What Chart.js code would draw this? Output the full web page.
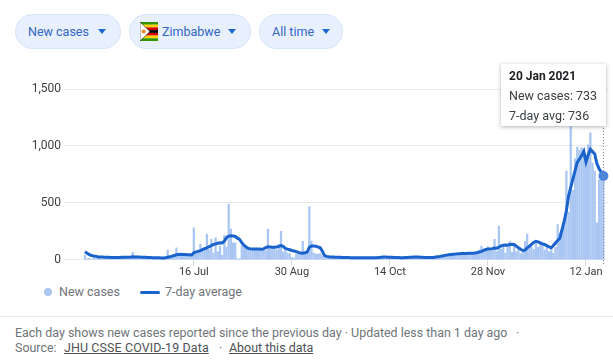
<!DOCTYPE html>
<html>
<head>
<meta charset="utf-8">
<script src="https://cdn.jsdelivr.net/npm/chart.js@4"></script>
<style>
html, body { margin: 0; padding: 0; background: #fff; }
body { width: 613px; height: 361px; position: relative; overflow: hidden; font-family: Roboto, Arial, sans-serif; }
.pill { position: absolute; top: 14px; height: 35px; box-sizing: border-box; border: 1px solid #d6e4fb; border-radius: 18px; background: #e8f0fe; color: #3367c4; font-size: 12.5px; line-height: 33px; white-space: nowrap; }
.pill span { position: absolute; top: 0; }
.pill i { position: absolute; top: 14px; width: 0; height: 0; border-left: 4.5px solid transparent; border-right: 4.5px solid transparent; border-top: 5px solid #1967d2; }
#flag { position: absolute; left: 10px; top: 7px; }
#wrap { position: absolute; left: 0; top: 70px; width: 613px; height: 209px; }
#tip { position: absolute; left: 501px; top: 64px; width: 105px; height: 62px; box-sizing: border-box; padding: 2px 8px; background: #fff; box-shadow: 0 1px 4px rgba(60,64,67,.4); font-size: 12.5px; line-height: 20px; color: #3c4043; white-space: nowrap; }
#tip b { color: #202124; font-weight: 700; display: block; font-size: 12px; }
#legend { position: absolute; left: 0; top: 284px; height: 16px; width: 300px; font-size: 12.5px; line-height: 16px; color: #70757a; }
#legend span { position: absolute; top: 0; white-space: nowrap; }
#legend i { position: absolute; }
#rule { position: absolute; left: 0; top: 316px; width: 613px; height: 1px; background: #e8eaed; }
#foot { position: absolute; left: 0; top: 325px; width: 613px; height: 30px; font-size: 12.45px; line-height: 15px; color: #70757a; }
#foot span { position: absolute; white-space: nowrap; }
#foot u { color: #4d5156; }
</style>
</head>
<body>
<div class="pill" style="left:15px;width:106px"><span style="left:12px">New cases</span><i style="left:82px"></i></div>
<div class="pill" style="left:129px;width:122px">
  <svg id="flag" width="18" height="19" viewBox="0 0 18 19">
    <rect width="18" height="19" fill="#f4f4f4"/>
    <rect width="18" height="2.7" fill="#319400"/>
    <rect y="2.7" width="18" height="2.7" fill="#ffd200"/>
    <rect y="5.4" width="18" height="2.7" fill="#d40000"/>
    <rect y="8.1" width="18" height="2.8" fill="#000"/>
    <rect y="10.9" width="18" height="2.7" fill="#d40000"/>
    <rect y="13.6" width="18" height="2.7" fill="#ffd200"/>
    <rect y="16.3" width="18" height="2.7" fill="#319400"/>
    <path d="M0 0 L10 9.5 L0 19 Z" fill="#fff" stroke="#000" stroke-width=".5"/>
    <circle cx="3.6" cy="9.5" r="2" fill="#e8892a"/>
  </svg>
  <span style="left:32px">Zimbabwe</span><i style="left:98px"></i></div>
<div class="pill" style="left:259px;width:84px"><span style="left:12px">All time</span><i style="left:62px"></i></div>

<div id="wrap"><canvas id="grafico"></canvas></div>
<div id="tip"></div>

<div id="legend">
  <i style="left:44px;top:4px;width:8px;height:8px;border-radius:50%;background:#a9c6f3"></i><span id="leg0" style="left:59px"></span>
  <i style="left:140px;top:6.5px;width:20px;height:3px;border-radius:2px;background:#1a62cc"></i><span id="leg1" style="left:165px"></span>
</div>

<div id="rule"></div>
<div id="foot">
  <span style="left:15px;top:0">Each day shows new cases reported since the previous day · Updated less than 1 day ago</span>
  <span style="left:516px;top:0">·</span>
  <span style="left:15px;top:15px">Source:</span>
  <span style="left:64px;top:15px;letter-spacing:.12px"><u>JHU CSSE COVID-19 Data</u></span>
  <span style="left:219px;top:15px">·</span>
  <span style="left:229px;top:15px"><u>About this data</u></span>
</div>

<script>
// giorni a partire dal 27 May 2020, uno per ogni valore
const firstDay = Date.UTC(2020, 4, 27);

// tick dell'asse x: indice del giorno e testo
const tickDays = [50, 95, 140, 185, 230];
const tickLabels = ['16 Jul', '30 Aug', '14 Oct', '28 Nov', '12 Jan'];
const yTicks = [0, 500, 1000, 1500];

const newCases = [
    40, 8, 12, 5, 15, 10, 25, 12, 5, 20,
    12, 10, 18, 30, 15, 22, 8, 14, 20, 10,
    25, 18, 65, 12, 20, 8, 25, 15, 30, 18,
    22, 12, 8, 15, 25, 10, 18, 22, 85, 30,
    25, 40, 105, 35, 55, 40, 55, 30, 45, 50,
    280, 70, 85, 135, 95, 110, 225, 90, 180, 60,
    193, 70, 120, 40, 215, 115, 490, 270, 150, 150,
    8, 10, 125, 115, 120, 105, 90, 85, 95, 85,
    100, 90, 85, 80, 270, 95, 105, 120, 85, 135,
    250, 70, 80, 60, 55, 20, 15, 50, 65, 60,
    163, 60, 65, 467, 165, 60, 50, 50, 55, 35,
    25, 18, 22, 15, 20, 12, 18, 25, 14, 20,
    16, 22, 10, 18, 15, 20, 12, 14, 18, 10,
    12, 20, 15, 18, 25, 30, 20, 28, 22, 16,
    18, 25, 14, 20, 16, 22, 12, 18, 28, 20,
    30, 22, 18, 26, 20, 14, 24, 18, 22, 25,
    18, 30, 35, 28, 40, 32, 45, 38, 52, 48,
    40, 62, 45, 58, 50, 65, 55, 48, 62, 70,
    75, 85, 120, 70, 95, 115, 80, 100, 180, 75,
    296, 95, 120, 60, 110, 160, 65, 130, 70, 85,
    55, 70, 160, 225, 130, 110, 90, 150, 110, 125,
    120, 85, 130, 70, 80, 60, 110, 310, 235, 240,
    300, 780, 420, 1170, 610, 890, 990, 960, 985, 940,
    900, 1010, 1115, 850, 780, 325, 700, 720, 733
];

const avg7 = [
    70, 58, 46, 38, 33, 30, 27, 25, 24, 23,
    22, 22, 21, 21, 20, 20, 21, 22, 23, 23,
    23, 24, 26, 25, 24, 24, 23, 22, 22, 21,
    20, 19, 18, 18, 17, 16, 16, 17, 22, 26,
    32, 38, 44, 46, 48, 47, 46, 45, 44, 43,
    62, 70, 74, 80, 90, 98, 105, 115, 125, 135,
    140, 145, 150, 148, 165, 195, 208, 212, 210, 205,
    190, 180, 150, 128, 112, 100, 96, 94, 94, 95,
    94, 93, 96, 108, 115, 113, 110, 110, 112, 118,
    125, 118, 100, 94, 88, 82, 77, 72, 65, 60,
    57, 62, 68, 110, 122, 122, 120, 112, 106, 75,
    37, 30, 27, 25, 24, 23, 22, 22, 21, 21,
    20, 20, 19, 19, 18, 18, 18, 18, 17, 17,
    17, 17, 18, 18, 18, 20, 22, 24, 24, 23,
    22, 22, 21, 20, 20, 19, 19, 20, 21, 22,
    23, 24, 25, 24, 23, 22, 21, 21, 20, 21,
    21, 24, 27, 30, 34, 37, 41, 44, 47, 49,
    50, 52, 54, 55, 56, 56, 57, 58, 58, 60,
    63, 68, 74, 82, 90, 94, 96, 98, 104, 102,
    110, 122, 128, 130, 128, 134, 137, 135, 120, 105,
    92, 82, 85, 105, 118, 135, 152, 163, 158, 148,
    138, 134, 125, 115, 104, 125, 148, 170, 192, 265,
    340, 430, 560, 635, 710, 783, 855, 885, 915, 953,
    860, 920, 970, 950, 930, 845, 800, 770, 736
];

const ultimo = avg7.length - 1;

function dammiData(i) {
    const d = new Date(firstDay + i * 86400000);
    return d.toLocaleDateString('en-GB', { day: 'numeric', month: 'short', year: 'numeric', timeZone: 'UTC' });
}

// linea verticale tratteggiata sull'ultimo giorno
const lineaGiorno = {
    id: 'lineaGiorno',
    afterDatasetsDraw(chart) {
        const x = chart.scales.x.getPixelForValue(ultimo);
        const ctx = chart.ctx;
        ctx.save();
        ctx.strokeStyle = '#80868b';
        ctx.lineWidth = 1;
        ctx.setLineDash([1, 2]);
        ctx.beginPath();
        ctx.moveTo(x, chart.chartArea.top);
        ctx.lineTo(x, chart.chartArea.bottom + 6);
        ctx.stroke();
        ctx.restore();
    }
};

function scriviTooltip(context) {
    const t = context.tooltip;
    if (!t.title || !t.title.length) return;
    document.getElementById('tip').innerHTML = '<b>' + t.title[0] + '</b>' + t.body.map(b => b.lines[0]).join('<br>');
}

const grafico = new Chart(document.getElementById('grafico').getContext('2d'), {
    type: 'bar',
    data: {
        datasets: [
            {
                label: 'New cases',
                data: newCases.map((v, i) => ({ x: i, y: v })),
                backgroundColor: '#a9c6f3',
                hoverBackgroundColor: '#a9c6f3',
                barThickness: 1.6,
                order: 2
            },
            {
                type: 'line',
                label: '7-day average',
                data: avg7.map((v, i) => ({ x: i, y: v })),
                borderColor: '#1a62cc',
                borderWidth: 3,
                tension: 0,
                clip: false,
                pointRadius: ctx => ctx.dataIndex === ultimo ? 5 : 0,
                pointHoverRadius: ctx => ctx.dataIndex === ultimo ? 5 : 0,
                pointBackgroundColor: '#4a86e0',
                pointHoverBackgroundColor: '#4a86e0',
                pointBorderWidth: 0,
                pointHoverBorderWidth: 0,
                order: 1
            }
        ]
    },
    options: {
        responsive: true,
        maintainAspectRatio: false,
        animation: false,
        layout: { padding: { left: 22, right: 3, top: 19, bottom: 0 } },
        scales: {
            x: {
                type: 'linear',
                offset: false,
                min: -9.6,
                max: 240.1,
                afterBuildTicks: scale => { scale.ticks = tickDays.map(v => ({ value: v })); },
                ticks: {
                    autoSkip: false,
                    maxRotation: 0,
                    color: '#3c4043',
                    font: { family: 'Roboto, Arial, sans-serif', size: 11 },
                    padding: 0,
                    callback: value => tickLabels[tickDays.indexOf(value)]
                },
                border: { display: false },
                grid: { offset: false, drawOnChartArea: false, tickLength: 6, tickColor: '#dadce0' }
            },
            y: {
                min: 0,
                max: 1500,
                afterBuildTicks: scale => { scale.ticks = yTicks.map(v => ({ value: v })); },
                afterFit: scale => { scale.width = 42; },
                ticks: {
                    color: '#3c4043',
                    font: { family: 'Roboto, Arial, sans-serif', size: 12 },
                    padding: 3,
                    callback: value => value.toLocaleString('en-US')
                },
                border: { display: false },
                grid: { color: '#e8eaed', drawTicks: false }
            }
        },
        plugins: {
            legend: { display: false },
            tooltip: {
                enabled: false,
                mode: 'index',
                external: scriviTooltip,
                callbacks: {
                    title: items => dammiData(items[0].parsed.x),
                    label: item => (item.datasetIndex === 0 ? 'New cases: ' : '7-day avg: ') + item.parsed.y
                }
            }
        }
    },
    plugins: [lineaGiorno]
});

document.getElementById('leg0').textContent = grafico.data.datasets[0].label;
document.getElementById('leg1').textContent = grafico.data.datasets[1].label;

const attivi = [{ datasetIndex: 0, index: ultimo }, { datasetIndex: 1, index: ultimo }];
grafico.setActiveElements(attivi);
grafico.tooltip.setActiveElements(attivi, { x: 0, y: 0 });
grafico.update();
</script>
</body>
</html>
